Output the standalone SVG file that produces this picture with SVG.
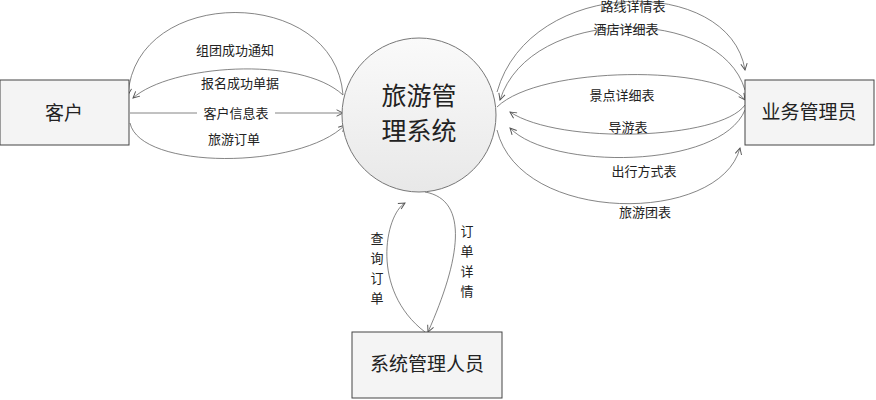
<svg xmlns="http://www.w3.org/2000/svg" width="876" height="400" viewBox="0 0 876 400">
<style>
.box{fill:#f4f4f4;stroke:#444;stroke-width:1}
.t{font-family:"Noto Sans CJK SC",sans-serif;fill:#222}
.s{font-size:13px}
.c{fill:none;stroke:#666;stroke-width:0.8;marker-end:url(#a)}
</style>
<defs>
<marker id="a" viewBox="0 0 10 10" refX="9" refY="5" markerWidth="8" markerHeight="8" orient="auto-start-reverse" markerUnits="userSpaceOnUse"><path d="M1,1 L9,5 L1,9" fill="none" stroke="#555" stroke-width="1.2"/></marker>
<linearGradient id="g" x1="0" y1="0" x2="0" y2="1"><stop offset="0" stop-color="#fafafa"/><stop offset="1" stop-color="#e8e8e8"/></linearGradient>
</defs>
<rect width="876" height="400" fill="#fff"/>
<g id="connectors">
<path class="c" d="M343,95 C335,-15 135,-15 128,95"/>
<path class="c" d="M343,95 C300,55 170,65 133,98"/>
<path class="c" d="M130,113 L343,113"/>
<path class="c" d="M130,123 C140,170 300,170 345,125"/>
<path class="c" d="M497,92 C530,-25 730,-25 745,70"/>
<path class="c" d="M745,90 C720,5 530,5 500,100"/>
<path class="c" d="M497,107 C540,65 720,65 745,100"/>
<path class="c" d="M745,105 C720,140 560,145 510,112"/>
<path class="c" d="M745,110 C720,170 550,170 510,128"/>
<path class="c" d="M497,130 C520,225 720,225 740,148"/>
<path class="c" d="M425,332 C370,290 385,215 405,203"/>
<path class="c" d="M425,192 C470,200 460,260 428,332"/>
</g>
<g id="customer"><rect class="box" x="0" y="80" width="129" height="65" fill="url(#g)"/><text class="t" x="64" y="120" font-size="19" text-anchor="middle">客户</text></g>
<g id="system"><circle cx="419" cy="115" r="77" fill="url(#g)" stroke="#777"/><text class="t" x="419" y="105" font-size="25" text-anchor="middle">旅游管</text><text class="t" x="419" y="140" font-size="25" text-anchor="middle">理系统</text></g>
<g id="manager"><rect class="box" x="745" y="80" width="129" height="65" fill="url(#g)"/><text class="t" x="809" y="119" font-size="19" text-anchor="middle">业务管理员</text></g>
<g id="admin"><rect class="box" x="352" y="332" width="150" height="66" fill="url(#g)"/><text class="t" x="427" y="371" font-size="19" text-anchor="middle">系统管理人员</text></g>
<g id="labels" class="t s" text-anchor="middle">
<text x="235" y="55">组团成功通知</text>
<text x="240" y="88">报名成功单据</text>
<rect x="197" y="104" width="78" height="16" fill="#fff"/>
<text x="236" y="118">客户信息表</text>
<text x="234" y="144">旅游订单</text>
<text x="633" y="11">路线详情表</text>
<text x="626" y="34">酒店详细表</text>
<text x="622" y="100">景点详细表</text>
<text x="628" y="132">导游表</text>
<text x="644" y="176">出行方式表</text>
<text x="645" y="217">旅游团表</text>
<text x="377" y="243">查</text><text x="377" y="263">询</text><text x="377" y="283">订</text><text x="377" y="303">单</text>
<text x="467" y="236">订</text><text x="467" y="256">单</text><text x="467" y="276">详</text><text x="467" y="296">情</text>
</g>
</svg>
